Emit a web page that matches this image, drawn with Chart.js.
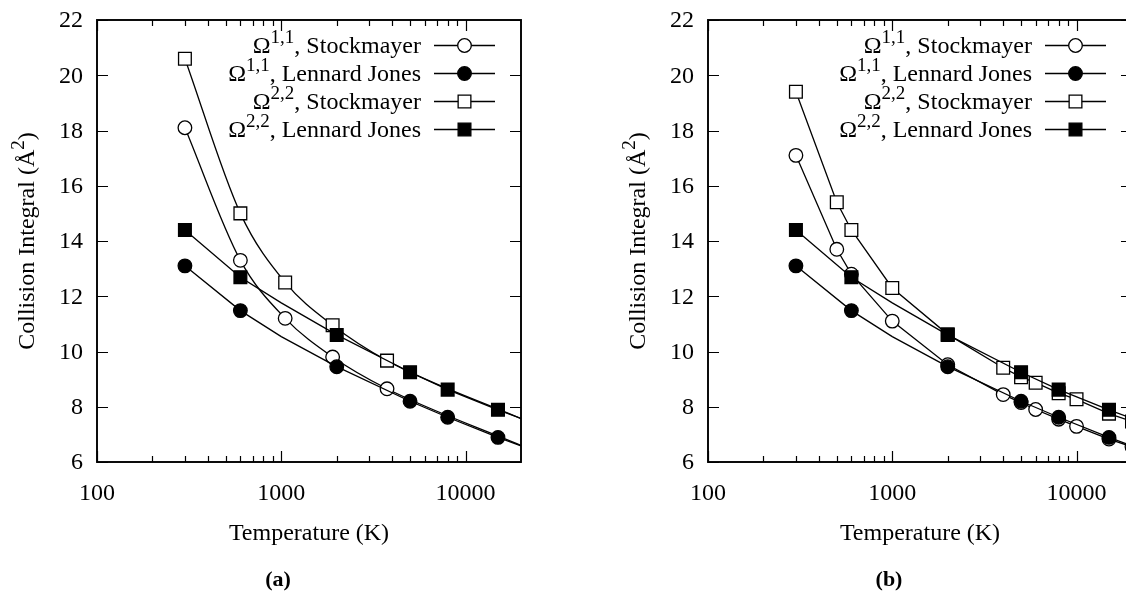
<!DOCTYPE html>
<html>
<head>
<meta charset="utf-8">
<script src="https://cdn.jsdelivr.net/npm/chart.js@4.4.0/dist/chart.umd.min.js"></script>
<style>
  html, body { margin: 0; padding: 0; background: #fff; overflow: hidden; width: 1126px; height: 592px; }
  .panel { position: absolute; top: 0; width: 563px; height: 592px; }
</style>
</head>
<body>
<div class="panel" style="left:0px"><canvas id="panelA" width="563" height="592"></canvas></div>
<div class="panel" style="left:611px"><canvas id="panelB" width="563" height="592"></canvas></div>
<script>
// Temperatures (K) and collision integrals (Å²)
// Panel (a): Stockmayer fits
const tempA_S     = [300, 600, 1050, 1900, 3750, 20000];
const omega11A_S  = [18.1, 13.3, 11.2, 9.8, 8.65, 6.6];
const omega22A_S  = [20.6, 15.0, 12.5, 10.95, 9.67, 7.57];
const markedA_S   = [1, 1, 1, 1, 1, 0];

// Panel (b): Stockmayer tabulation
const tempB_S     = [300, 500, 600, 1000, 2000, 4000, 5000, 6000, 8000, 10000, 15000, 20000];
const omega11B_S  = [17.1, 13.7, 12.8, 11.1, 9.52, 8.44, 8.15, 7.9, 7.55, 7.29, 6.83, 6.55];
const omega22B_S  = [19.4, 15.4, 14.4, 12.3, 10.62, 9.41, 9.07, 8.87, 8.49, 8.27, 7.75, 7.47];
const markedB_S   = [1, 1, 1, 1, 1, 1, 1, 1, 1, 1, 1, 1];

// Lennard-Jones (same in both panels)
const tempLJ      = [300, 600, 1000, 2000, 5000, 8000, 15000, 20000];
const omega11LJ   = [13.1, 11.48, 10.54, 9.45, 8.2, 7.62, 6.89, 6.58];
const omega22LJ   = [14.4, 12.69, 11.76, 10.6, 9.25, 8.62, 7.89, 7.58];
const markedLJ    = [1, 1, 0, 1, 1, 1, 1, 0];

// Axes
const yTicks      = [6, 8, 10, 12, 14, 16, 18, 20, 22];
const xMajorTicks = [100, 1000, 10000];
const xTickLabels = ['100', '1000', '10000'];
const xMinorTicks = [200, 300, 400, 500, 600, 700, 800, 900, 2000, 3000, 4000, 5000, 6000, 7000, 8000, 9000];

// Legend entries: [symbol, superscript, rest]
const legendLabels = [
  ['\u03A9', '1,1', ', Stockmayer'],
  ['\u03A9', '1,1', ', Lennard Jones'],
  ['\u03A9', '2,2', ', Stockmayer'],
  ['\u03A9', '2,2', ', Lennard Jones']
];
const legendStyles = [
  { style: 'circle', fill: '#fff' },
  { style: 'circle', fill: '#000' },
  { style: 'rect',   fill: '#fff' },
  { style: 'rect',   fill: '#000' }
];

const FONT = '"Liberation Serif", "Times New Roman", serif';
const CIRCLE_R = 6.8;
const RECT_R = 9.0;

function pts(xs, ys) { return xs.map((x, i) => ({ x: x, y: ys[i] })); }

function series(xs, ys, marked, style, fill, order, smooth) {
  const r = style === 'circle' ? CIRCLE_R : RECT_R;
  return {
    data: pts(xs, ys),
    order: order,
    borderColor: '#000',
    borderWidth: 1.3,
    tension: 0,
    cubicInterpolationMode: smooth ? 'monotone' : 'default',
    pointStyle: style,
    pointRadius: marked.map(m => m ? r : 0),
    pointHoverRadius: marked.map(m => m ? r : 0),
    pointBackgroundColor: fill,
    pointBorderColor: '#000',
    pointBorderWidth: 1.3,
    fill: false
  };
}

// Text with one raised run in the middle: [before, superscript, after]
function drawSupText(ctx, parts, x, y, align, size) {
  const main = size + 'px ' + FONT;
  const sup = Math.round(size * 0.8) + 'px ' + FONT;
  ctx.font = main; const w0 = ctx.measureText(parts[0]).width;
  ctx.font = sup;  const w1 = ctx.measureText(parts[1]).width;
  ctx.font = main; const w2 = ctx.measureText(parts[2]).width;
  const total = w0 + w1 + w2;
  let sx = align === 'right' ? x - total : (align === 'center' ? x - total / 2 : x);
  ctx.textAlign = 'left';
  ctx.textBaseline = 'alphabetic';
  ctx.font = main; ctx.fillText(parts[0], sx, y);
  ctx.font = sup;  ctx.fillText(parts[1], sx + w0, y - size * 0.4);
  ctx.font = main; ctx.fillText(parts[2], sx + w0 + w1, y);
}

function drawMarker(ctx, style, fill, x, y) {
  ctx.save();
  ctx.lineWidth = 1.3;
  ctx.strokeStyle = '#000';
  ctx.fillStyle = fill;
  ctx.beginPath();
  if (style === 'circle') {
    ctx.arc(x, y, CIRCLE_R, 0, Math.PI * 2);
  } else {
    const h = RECT_R * Math.SQRT1_2;
    ctx.rect(x - h, y - h, 2 * h, 2 * h);
  }
  ctx.fill();
  ctx.stroke();
  ctx.restore();
}

const gnuFrame = {
  id: 'gnuFrame',
  afterDatasetsDraw(chart) {
    const ctx = chart.ctx, a = chart.chartArea;
    const xs = chart.scales.x, ys = chart.scales.y;
    ctx.save();
    ctx.strokeStyle = '#000';
    ctx.lineWidth = 1.2;
    ctx.beginPath();
    yTicks.forEach(v => {
      const p = Math.round(ys.getPixelForValue(v)) + 0.5;
      ctx.moveTo(a.left, p); ctx.lineTo(a.left + 11, p);
      ctx.moveTo(a.right, p); ctx.lineTo(a.right - 11, p);
    });
    xMajorTicks.forEach(v => {
      const p = Math.round(xs.getPixelForValue(v)) + 0.5;
      ctx.moveTo(p, a.bottom); ctx.lineTo(p, a.bottom - 11);
      ctx.moveTo(p, a.top); ctx.lineTo(p, a.top + 11);
    });
    xMinorTicks.forEach(v => {
      const p = Math.round(xs.getPixelForValue(v)) + 0.5;
      ctx.moveTo(p, a.bottom); ctx.lineTo(p, a.bottom - 6);
      ctx.moveTo(p, a.top); ctx.lineTo(p, a.top + 6);
    });
    ctx.stroke();
    ctx.lineWidth = 1.9;
    ctx.strokeRect(a.left, a.top, a.right - a.left, a.bottom - a.top);
    ctx.restore();
  },
  afterDraw(chart, args, opts) {
    const ctx = chart.ctx, a = chart.chartArea;
    const xs = chart.scales.x, ys = chart.scales.y;
    ctx.save();
    ctx.fillStyle = '#000';
    // y tick labels
    ctx.font = '24px ' + FONT;
    ctx.textAlign = 'right';
    ctx.textBaseline = 'middle';
    yTicks.forEach(v => ctx.fillText(String(v), a.left - 14, ys.getPixelForValue(v) + 1));
    // x tick labels
    ctx.textAlign = 'center';
    ctx.textBaseline = 'alphabetic';
    xMajorTicks.forEach((v, i) => ctx.fillText(xTickLabels[i], xs.getPixelForValue(v), 500));
    // x axis title
    ctx.fillText('Temperature (K)', (a.left + a.right) / 2, 540);
    // y axis title
    ctx.save();
    ctx.translate(34, (a.top + a.bottom) / 2);
    ctx.rotate(-Math.PI / 2);
    drawSupText(ctx, ['Collision Integral (\u00C5', '2', ')'], 0, 0, 'center', 24);
    ctx.restore();
    // panel caption
    ctx.font = 'bold 22px ' + FONT;
    ctx.textAlign = 'center';
    ctx.fillText(opts.caption, 278, 586);
    // legend
    const rowY0 = 45, rowStep = 28;
    legendLabels.forEach((parts, i) => {
      const y = rowY0 + i * rowStep;
      ctx.fillStyle = '#000';
      drawSupText(ctx, parts, a.left + 324, y + 8, 'right', 24);
      ctx.beginPath();
      ctx.lineWidth = 1.3;
      ctx.strokeStyle = '#000';
      ctx.moveTo(a.left + 337, y + 0.5);
      ctx.lineTo(a.left + 398, y + 0.5);
      ctx.stroke();
      drawMarker(ctx, legendStyles[i].style, legendStyles[i].fill, a.left + 367.5, y + 0.5);
    });
    ctx.restore();
  }
};

function makeChart(id, caption, sT, s11, s22, sMarked, smooth) {
  return new Chart(document.getElementById(id), {
    type: 'line',
    data: {
      datasets: [
        series(sT, s11, sMarked, 'circle', '#fff', 4, smooth),
        series(tempLJ, omega11LJ, markedLJ, 'circle', '#000', 3, false),
        series(sT, s22, sMarked, 'rect', '#fff', 2, smooth),
        series(tempLJ, omega22LJ, markedLJ, 'rect', '#000', 1, false)
      ]
    },
    options: {
      responsive: false,
      animation: false,
      events: [],
      layout: { padding: { left: 97, top: 20, right: 42, bottom: 130 } },
      scales: {
        x: { type: 'logarithmic', min: 100, max: 20000, display: false },
        y: { type: 'linear', min: 6, max: 22, display: false }
      },
      plugins: {
        legend: { display: false },
        tooltip: { enabled: false },
        gnuFrame: { caption: caption }
      }
    },
    plugins: [gnuFrame]
  });
}

makeChart('panelA', '(a)', tempA_S, omega11A_S, omega22A_S, markedA_S, true);
makeChart('panelB', '(b)', tempB_S, omega11B_S, omega22B_S, markedB_S, false);
</script>
</body>
</html>
